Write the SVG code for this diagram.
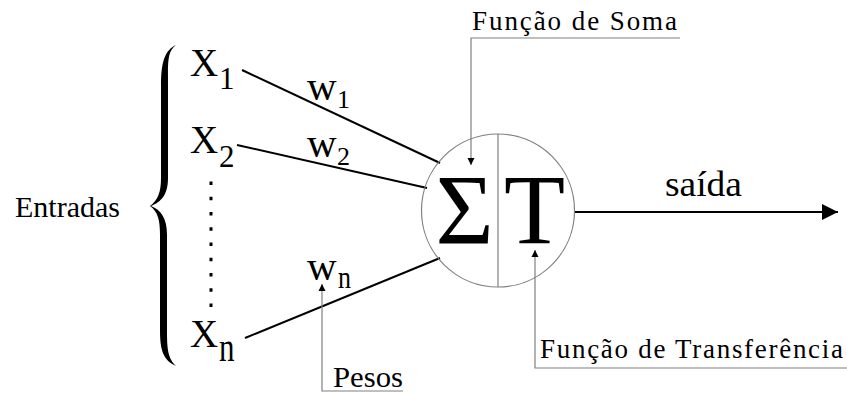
<svg xmlns="http://www.w3.org/2000/svg" width="847" height="394" viewBox="0 0 847 394" font-family="Liberation Serif, DejaVu Serif, serif">
<style>
text { font-family: 'Liberation Serif', 'DejaVu Serif', serif; fill: #000; }
.main { font-size: 39px; }
.sub { font-size: 31px; }
.w { font-size: 41px; }
.wsub { font-size: 26px; }
.lbl { font-size: 27px; }
.conn { stroke: #000; stroke-width: 2; fill: none; }
.gray { stroke: #808080; stroke-width: 1.2; fill: none; }
</style>
<defs>
<marker id="ga" viewBox="0 0 10 10" refX="10" refY="5" markerWidth="7" markerHeight="11" markerUnits="userSpaceOnUse" orient="auto">
<path d="M0,0 L10,5 L0,10 Z" fill="#000"/>
</marker>
<marker id="ba" viewBox="0 0 10 10" refX="10" refY="5" markerWidth="18" markerHeight="16" markerUnits="userSpaceOnUse" orient="auto">
<path d="M0,0 L10,5 L0,10 Z" fill="#000"/>
</marker>
</defs>

<g id="entradas">
<text x="15" y="217" font-size="29" textLength="105" lengthAdjust="spacingAndGlyphs">Entradas</text>
<path d="M 176,45 C 167,52 168,62 168,85 L 168,178 C 168,195 161,202 151,206 C 161,210 167,218 167,235 L 167,330 C 167,350 168,358 176,366 C 163,360 160,350 160,330 L 160,235 C 160,220 158,212 150,206 C 158,200 161,192 161,178 L 161,85 C 161,62 165,50 176,45 Z" fill="#000"/>
<line x1="211" y1="181.5" x2="211" y2="308" stroke="#000" stroke-width="3" stroke-dasharray="3.5 11.75"/>
</g>

<g id="x1">
<text class="main" x="190" y="76">X</text>
<text class="sub" x="219" y="89">1</text>
</g>
<g id="x2">
<text class="main" x="190" y="153">X</text>
<text class="sub" x="219" y="167">2</text>
</g>
<g id="xn">
<text class="main" x="190" y="347">X</text>
<text class="sub" transform="translate(219,361) scale(1,1.3)" x="0" y="0">n</text>
</g>

<g id="connectors">
<line class="conn" x1="242" y1="70" x2="440" y2="163"/>
<line class="conn" x1="237" y1="145" x2="427" y2="188"/>
<line class="conn" x1="245" y1="338" x2="440" y2="258"/>
<line class="conn" x1="574" y1="212" x2="838" y2="212" marker-end="url(#ba)"/>
</g>

<g id="weights">
<text class="w" x="307" y="100">w</text>
<text class="wsub" x="337" y="108">1</text>
<text class="w" x="307" y="157">w</text>
<text class="wsub" x="337" y="165">2</text>
<text class="w" x="307" y="280">w</text>
<text class="wsub" transform="translate(338,288) scale(1,1.2)" x="0" y="0">n</text>
</g>

<g id="neuron">
<circle cx="498" cy="210.5" r="76.5" fill="none" stroke="#808080" stroke-width="1.2"/>
<line x1="498" y1="134" x2="498" y2="287" stroke="#808080" stroke-width="1.2"/>
<text x="464.5" y="243" font-size="100" text-anchor="middle">Σ</text>
<text x="534.5" y="243" font-size="100" text-anchor="middle">T</text>
</g>

<g id="saida">
<text x="665" y="196" font-size="35" textLength="77" lengthAdjust="spacingAndGlyphs">saída</text>
</g>

<g id="funcao-soma">
<text class="lbl" x="472" y="30" textLength="205" lengthAdjust="spacing">Função de Soma</text>
<polyline class="gray" points="680,38 471,38 471,165" marker-end="url(#ga)"/>
</g>

<g id="funcao-transferencia">
<text class="lbl" x="540" y="358" textLength="303" lengthAdjust="spacing">Função de Transferência</text>
<polyline class="gray" points="847,368 535,368 535,250" marker-end="url(#ga)"/>
</g>

<g id="pesos">
<text x="333" y="387" font-size="29" textLength="70" lengthAdjust="spacingAndGlyphs">Pesos</text>
<polyline class="gray" points="403,391 322,391 322,284" marker-end="url(#ga)"/>
</g>
</svg>
